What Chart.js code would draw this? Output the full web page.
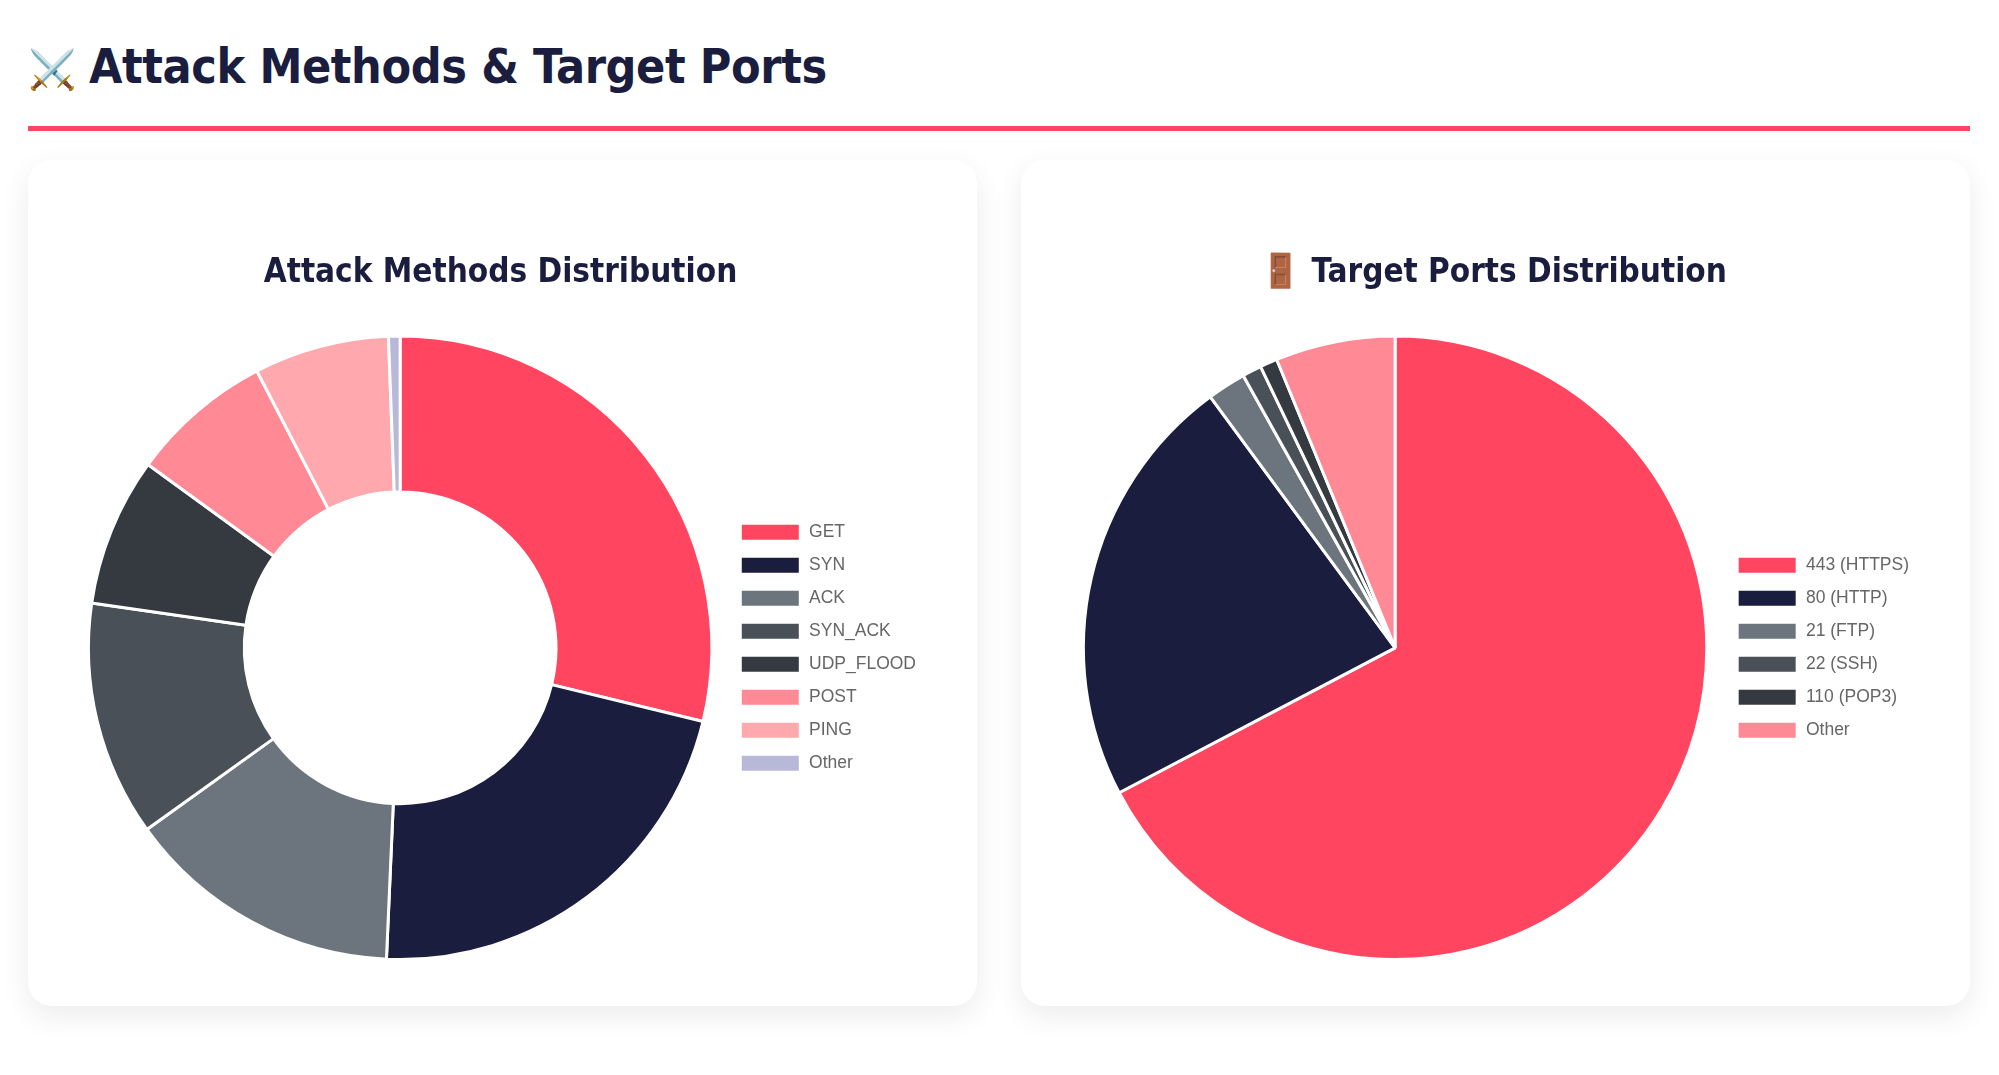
<!doctype html>
<html lang="en">
  <head>
    <meta charset="utf-8">
    <title>Attack Methods & Target Ports</title>
    <script src="https://cdn.jsdelivr.net/npm/chart.js@4"></script>
    <style>
      html, body { margin: 0; background: #fff; }
      body { width: 1999px; height: 1075px; position: relative; overflow: hidden; }
      h2 {
        position: absolute; left: 28px; top: 38px; margin: 0;
        font: bold 48px "DejaVu Sans Condensed", "DejaVu Sans", sans-serif;
        letter-spacing: -0.4px;
        color: #1a1d3d; white-space: nowrap;
      }
      h2 .icon { display: inline-block; width: 61px; font-size: 39px; letter-spacing: 0; }
      .rule { position: absolute; left: 28px; top: 126px; width: 1942px; height: 5px; background: #ff4560; }
      .card {
        position: absolute; top: 160px; width: 949px; height: 846px;
        background: #fff; border-radius: 24px;
        box-shadow: 0 10px 30px rgba(0, 0, 0, 0.08);
      }
      .card canvas { position: absolute; left: 47px; top: 43px; }
    </style>
  </head>
  <body>

<h2><span class="icon">⚔️</span>Attack Methods &amp; Target Ports</h2>
<div class="rule"></div>

<div class="card" style="left: 28px">
  <canvas id="methodsChart" width="851" height="758"></canvas>
</div>
<div class="card" style="left: 1021px">
  <canvas id="portsChart" width="851" height="758"></canvas>
</div>

    <script>
  var methodLabels = ["GET", "SYN", "ACK", "SYN_ACK", "UDP_FLOOD", "POST", "PING", "Other"];
  var methodValues = [28.8, 21.9, 14.4, 12.2, 7.7, 7.4, 7.0, 0.6];
  var portLabels = ["443 (HTTPS)", "80 (HTTP)", "21 (FTP)", "22 (SSH)", "110 (POP3)", "Other"];
  var portValues = [67.3, 22.6, 2.0, 1.0, 0.9, 6.2];
  var sliceColors = ["#ff4560", "#1a1d3d", "#6c757d", "#495057", "#343a40", "#ff8a96", "#ffa8ae", "#b8b8d8"];
  var portColors = ["#ff4560", "#1a1d3d", "#6c757d", "#495057", "#343a40", "#ff8a96"];

  Chart.defaults.font.family = "'Liberation Sans', Arial, sans-serif";

  function makeChart(id, type, title, labels, values, colors) {
    return new Chart(document.getElementById(id).getContext("2d"), {
      type: type,
      data: {
        labels: labels,
        datasets: [
          {
            data: values,
            backgroundColor: colors,
            borderColor: "#fff",
            borderWidth: 3,
          },
        ],
      },
      options: {
        responsive: false,
        animation: false,
        plugins: {
          title: {
            display: true,
            text: title,
            color: "#1a1d3d",
            font: { family: "'DejaVu Sans Condensed', 'DejaVu Sans', sans-serif", size: 33, weight: "bold" },
            padding: { top: 51, bottom: 41 },
          },
          legend: {
            position: "right",
            // keep the legend centred on the slices, below the title
            fullSize: false,
            labels: {
              // the white slice border eats 1.5px on each side of the box
              boxWidth: 60,
              boxHeight: 18,
              padding: 15,
              color: "#666",
              font: { size: 17.5 },
            },
          },
          tooltip: { enabled: false },
        },
      },
    });
  }

  var methodsChart = makeChart("methodsChart", "doughnut", "Attack Methods Distribution", methodLabels, methodValues, sliceColors);
  var portsChart = makeChart("portsChart", "pie", "🚪 Target Ports Distribution", portLabels, portValues, portColors);
    </script>
  </body>
</html>
